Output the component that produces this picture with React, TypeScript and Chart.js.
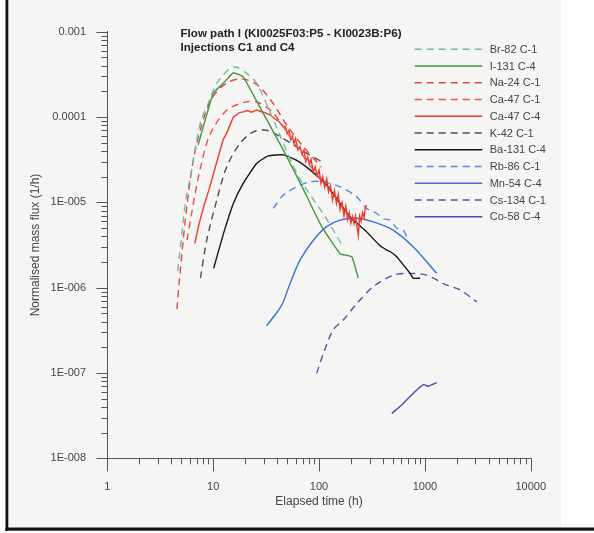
import React, { useEffect, useRef } from 'react';
import { Chart, registerables } from 'chart.js';

Chart.register(...registerables);

// ---------- tick labels ----------
const xDecades = [1, 10, 100, 1000, 10000];
const xTickLabels = ['1', '10', '100', '1000', '10000'];
const yDecades = [1e-8, 1e-7, 1e-6, 1e-5, 1e-4, 1e-3];
const yTickLabels = ['1E-008', '1E-007', '1E-006', '1E-005', '0.0001', '0.001'];

const titleLines = ['Flow path I (KI0025F03:P5 - KI0023B:P6)', 'Injections C1 and C4'];
const xTitle = 'Elapsed time (h)';
const yTitle = 'Normalised mass flux (1/h)';

// ---------- series ----------
const seriesLabels = [
  'Br-82 C-1', 'I-131 C-4', 'Na-24 C-1', 'Ca-47 C-1', 'Ca-47 C-4', 'K-42 C-1',
  'Ba-131 C-4', 'Rb-86 C-1', 'Mn-54 C-4', 'Cs-134 C-1', 'Co-58 C-4',
];

const br82X = [4.62, 5.0, 5.5, 6.1, 7.0, 7.7, 8.7, 10.8, 14.4, 16.7, 20.7, 25.8, 40, 64, 114, 169];
const br82Y = [1.57e-6, 3.8e-6, 1.06e-5, 2.0e-5, 5.4e-5, 9.2e-5, 1.32e-4, 2.48e-4, 3.72e-4, 3.83e-4, 3.25e-4, 2.48e-4, 7.4e-5, 2.0e-5, 6.8e-6, 3.0e-6];

const i131X = [7.2, 10, 12.5, 15.5, 19.2, 30, 46, 70, 106, 158, 204, 235];
const i131Y = [4.7e-5, 1.9e-4, 2.5e-4, 3.3e-4, 2.96e-4, 1.08e-4, 4.1e-5, 1.48e-5, 5.2e-6, 2.5e-6, 2.3e-6, 1.29e-6];

const na24X = [4.54, 4.81, 5.23, 5.67, 6.41, 7.57, 9.68, 13.4, 18.7, 25.9, 36, 50, 69.8, 105];
const na24Y = [5.6e-7, 1.29e-6, 3.85e-6, 9.6e-6, 2.9e-5, 7.2e-5, 1.65e-4, 2.5e-4, 2.8e-4, 2.4e-4, 1.5e-4, 7.9e-5, 4.6e-5, 2.6e-5];

const ca47c1X = [5.66, 6.44, 7.5, 9.3, 13.4, 20.3, 25.9, 36, 49.9, 82, 114];
const ca47c1Y = [3.6e-6, 9.2e-6, 2.4e-5, 6.2e-5, 1.2e-4, 1.5e-4, 1.5e-4, 1.15e-4, 6.6e-5, 2.7e-5, 1.6e-5];

const ca47c4X = [6.7, 7.3, 8.2, 9.1, 10.6, 12.4, 13.5, 14.5, 15.5, 16.5, 17.5, 19.2, 21, 23, 25.8, 28, 31, 34.4, 38, 42,
  46, 48, 50, 52, 54, 56, 58, 60, 63, 66, 69, 72, 75, 78, 81, 84, 88, 92, 96, 100, 104, 108, 113, 118, 123, 128, 134, 140,
  146, 152, 158, 165, 172, 179, 186, 193, 200, 207, 214, 221, 228, 235, 242, 250, 258, 266, 274, 282];
const ca47c4Y = [3.3e-6, 5.4e-6, 9.3e-6, 1.39e-5, 2.74e-5, 5.4e-5, 6.6e-5, 8.2e-5, 1.0e-4, 1.05e-4, 1.12e-4, 1.15e-4, 1.19e-4, 1.14e-4, 1.21e-4, 1.16e-4, 1.12e-4, 1.06e-4, 9.6e-5, 8.8e-5,
  7.7e-5, 7.8e-5, 6.4e-5, 7.0e-5, 5.4e-5, 6.0e-5, 4.9e-5, 5.6e-5, 4.1e-5, 4.5e-5, 3.7e-5, 4.1e-5, 3.0e-5, 3.4e-5, 2.8e-5, 3.2e-5, 2.26e-5, 2.6e-5, 2.05e-5, 2.4e-5,
  1.68e-5, 2.0e-5, 1.51e-5, 1.88e-5, 1.33e-5, 1.56e-5, 1.06e-5, 1.37e-5, 9.7e-6, 1.24e-5, 8.2e-6, 9.9e-6, 6.9e-6, 9.0e-6, 6.3e-6, 7.6e-6, 5.7e-6, 6.8e-6, 5.6e-6, 6.9e-6,
  5.3e-6, 4.1e-6, 6.9e-6, 6.0e-6, 7.6e-6, 6.6e-6, 8.7e-6, 9.3e-6];

const k42X = [7.57, 8.68, 10.8, 13.4, 17.9, 23.9, 32, 42.8, 57.1, 76.5, 106];
const k42Y = [1.29e-6, 3.6e-6, 1.06e-5, 2.6e-5, 4.9e-5, 6.7e-5, 7.0e-5, 5.9e-5, 4.7e-5, 3.75e-5, 3.0e-5];

const ba131X = [10.1, 12.5, 15.5, 19.2, 25.8, 33.2, 46, 61.5, 82.2, 118, 160, 197, 272, 377, 437, 480, 542, 650, 725, 778, 901];
const ba131Y = [1.69e-6, 4.3e-6, 9.7e-6, 1.67e-5, 2.87e-5, 3.5e-5, 3.6e-5, 3.1e-5, 2.4e-5, 1.6e-5, 9.5e-6, 6.7e-6, 4.7e-6, 3.1e-6, 2.76e-6, 2.6e-6, 2.3e-6, 1.74e-6, 1.47e-6, 1.29e-6, 1.29e-6];

const rb86X = [37, 46, 61.5, 82.2, 110, 158, 227, 282, 351, 410, 469, 540, 626, 694];
const rb86Y = [8.5e-6, 1.22e-5, 1.52e-5, 1.74e-5, 1.74e-5, 1.52e-5, 1.16e-5, 8.5e-6, 7.4e-6, 6.4e-6, 6.2e-6, 5.0e-6, 4.7e-6, 3.6e-6];

const mn54X = [31.9, 44.4, 53.2, 66.1, 88.3, 118, 158, 227, 326, 504, 778, 1295];
const mn54Y = [3.56e-7, 6.25e-7, 1.12e-6, 2.1e-6, 3.6e-6, 5.2e-6, 6.2e-6, 6.5e-6, 5.9e-6, 4.7e-6, 3.0e-6, 1.47e-6];

const cs134X = [95, 110, 136, 170, 227, 326, 504, 725, 1042, 1610, 2150, 3095];
const cs134Y = [9.9e-8, 1.7e-7, 3.2e-7, 4.2e-7, 6.5e-7, 1.03e-6, 1.4e-6, 1.47e-6, 1.4e-6, 1.07e-6, 9.4e-7, 6.8e-7];

const co58X = [487, 626, 778, 968, 1080, 1295];
const co58Y = [3.36e-8, 4.4e-8, 5.8e-8, 7.3e-8, 7.0e-8, 7.7e-8];

const seriesX = [br82X, i131X, na24X, ca47c1X, ca47c4X, k42X, ba131X, rb86X, mn54X, cs134X, co58X];
const seriesY = [br82Y, i131Y, na24Y, ca47c1Y, ca47c4Y, k42Y, ba131Y, rb86Y, mn54Y, cs134Y, co58Y];
const seriesColors = ['#72b8aa', '#45963f', '#e8443c', '#ec5048', '#f03a2a', '#4d4d4d', '#151515', '#5b88e4', '#3b6fd9', '#5a4f9c', '#5743ad'];
const seriesDashed = [true, false, true, true, false, true, false, true, false, true, false];
const seriesTension = [0.3, 0.1, 0.3, 0.3, 0, 0.3, 0.15, 0.3, 0.3, 0.3, 0.1];

const FONT = '"Liberation Sans", Arial, Helvetica, sans-serif';

function decadeIndex(v: number, decades: number[]): number {
  const e = Math.log10(v);
  if (Math.abs(e - Math.round(e)) > 1e-6) return -1;
  return decades.findIndex((d) => Math.abs(Math.log10(d) - e) < 1e-6);
}

function buildTicks(decades: number[]): number[] {
  const out: number[] = [];
  for (let i = 0; i < decades.length - 1; i++) {
    for (let k = 1; k <= 9; k++) out.push(decades[i] * k);
  }
  out.push(decades[decades.length - 1]);
  return out;
}

const decorPlugin = {
  id: 'decor',
  beforeDraw(chart: any) {
    const ctx = chart.ctx as CanvasRenderingContext2D;
    ctx.save();
    ctx.fillStyle = '#ffffff';
    ctx.fillRect(0, 0, 594, 533);
    ctx.fillStyle = '#f5f5f4';
    ctx.fillRect(8, 0, 553, 527);
    ctx.fillStyle = '#111111';
    ctx.fillRect(5.5, 0, 2.8, 531);
    ctx.fillRect(5.5, 527.5, 589, 3.2);
    ctx.restore();
  },
  afterDraw(chart: any) {
    const ctx = chart.ctx as CanvasRenderingContext2D;
    const xs = chart.scales.x;
    const ys = chart.scales.y;
    ctx.save();
    // tick marks (major longer than minor)
    ctx.strokeStyle = '#555555';
    ctx.lineWidth = 1;
    ctx.beginPath();
    xs.ticks.forEach((t: any) => {
      const p = Math.round(xs.getPixelForValue(t.value)) + 0.5;
      const len = decadeIndex(t.value, xDecades) >= 0 ? 13 : 6;
      ctx.moveTo(p, xs.top);
      ctx.lineTo(p, xs.top + len);
    });
    ys.ticks.forEach((t: any) => {
      const p = Math.round(ys.getPixelForValue(t.value)) + 0.5;
      const len = decadeIndex(t.value, yDecades) >= 0 ? 11 : 6;
      ctx.moveTo(ys.right, p);
      ctx.lineTo(ys.right - len, p);
    });
    ctx.stroke();

    // title
    ctx.fillStyle = '#222222';
    ctx.font = `bold 11.6px ${FONT}`;
    ctx.textAlign = 'left';
    ctx.textBaseline = 'middle';
    ctx.fillText(titleLines[0], 180.5, 33.5);
    ctx.fillText(titleLines[1], 180.5, 47.5);

    // legend
    ctx.font = `11px ${FONT}`;
    chart.data.datasets.forEach((ds: any, i: number) => {
      const y = 49.3 + i * 16.75;
      ctx.strokeStyle = ds.borderColor;
      ctx.lineWidth = 1.5;
      ctx.setLineDash(ds.borderDash || []);
      ctx.beginPath();
      ctx.moveTo(414.7, y);
      ctx.lineTo(482.3, y);
      ctx.stroke();
      ctx.setLineDash([]);
      ctx.fillStyle = '#444444';
      ctx.fillText(ds.label, 489.7, y + 0.5);
    });
    ctx.restore();
  },
};

export default function App() {
  const ref = useRef<HTMLCanvasElement>(null);

  useEffect(() => {
    const canvas = ref.current;
    if (!canvas) return;
    const xTickValues = buildTicks(xDecades);
    const yTickValues = buildTicks(yDecades);

    const datasets = seriesLabels.map((label, i) => ({
      label,
      data: seriesX[i].map((x, j) => ({ x, y: seriesY[i][j] })),
      borderColor: seriesColors[i],
      backgroundColor: seriesColors[i],
      borderWidth: 1.4,
      borderDash: seriesDashed[i] ? [7, 5] : [],
      pointRadius: 0,
      pointHoverRadius: 0,
      tension: seriesTension[i],
      fill: false,
    }));

    const chart = new Chart(canvas, {
      type: 'line',
      data: { datasets },
      plugins: [decorPlugin],
      options: {
        animation: false,
        responsive: false,
        devicePixelRatio: 1,
        events: [],
        layout: { padding: { left: 0, right: 63.3, top: 31.7, bottom: 0 } },
        plugins: {
          legend: { display: false },
          tooltip: { enabled: false },
          title: { display: false },
        },
        scales: {
          x: {
            type: 'logarithmic',
            position: 'bottom',
            min: 1,
            max: 10000,
            afterBuildTicks: (scale: any) => {
              scale.ticks = xTickValues.map((v) => ({ value: v }));
            },
            afterFit: (scale: any) => {
              scale.height = 74.7;
            },
            grid: { display: false, drawTicks: false },
            border: { display: true, color: '#555555', width: 1 },
            ticks: {
              autoSkip: false,
              maxRotation: 0,
              padding: 21.8,
              color: '#444444',
              font: { family: FONT, size: 11 },
              callback: (v: any) => {
                const idx = decadeIndex(Number(v), xDecades);
                return idx >= 0 ? xTickLabels[idx] : '';
              },
            },
            title: {
              display: true,
              text: xTitle,
              color: '#444444',
              font: { family: FONT, size: 12 },
              padding: { top: 0, bottom: 24.1 },
            },
          },
          y: {
            type: 'logarithmic',
            position: 'left',
            min: 1e-8,
            max: 1e-3,
            afterBuildTicks: (scale: any) => {
              scale.ticks = yTickValues.map((v) => ({ value: v }));
            },
            afterFit: (scale: any) => {
              scale.width = 107.4;
            },
            grid: { display: false, drawTicks: false },
            border: { display: true, color: '#555555', width: 1 },
            ticks: {
              autoSkip: false,
              padding: 21.4,
              color: '#444444',
              font: { family: FONT, size: 11 },
              callback: (v: any) => {
                const idx = decadeIndex(Number(v), yDecades);
                return idx >= 0 ? yTickLabels[idx] : '';
              },
            },
            title: {
              display: true,
              text: yTitle,
              color: '#444444',
              font: { family: FONT, size: 12 },
              padding: { top: 28.8, bottom: 0 },
            },
          },
        },
      },
    } as any);

    return () => chart.destroy();
  }, []);

  return (
    <div style={{ position: 'absolute', left: 0, top: 0, width: 594, height: 533, background: '#ffffff' }}>
      <canvas ref={ref} width={594} height={533} style={{ display: 'block', width: 594, height: 533 }} />
    </div>
  );
}
